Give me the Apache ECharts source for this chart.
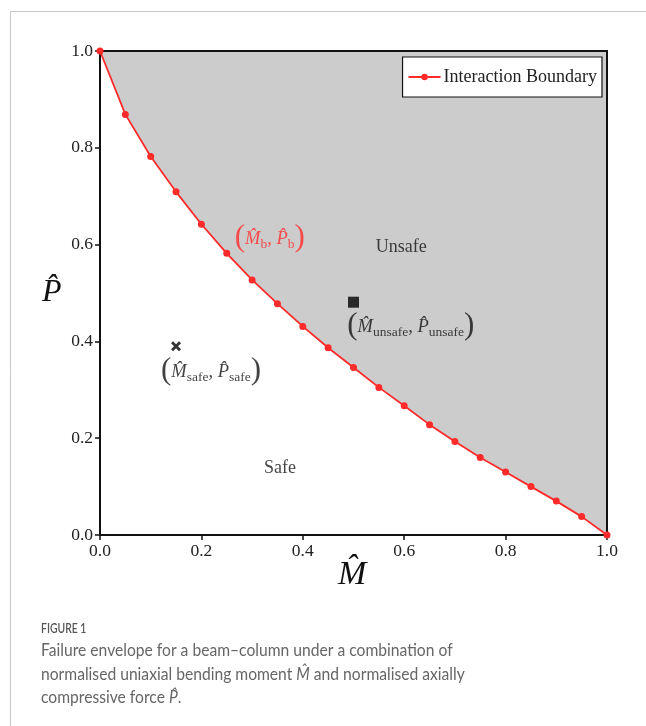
<!DOCTYPE html>
<html>
<head>
<meta charset="utf-8">
<script src="https://cdn.jsdelivr.net/npm/echarts@6/dist/echarts.min.js"></script>
<style>
html,body{margin:0;padding:0;background:#fff;}
#c{width:646px;height:726px;}
</style>
</head>
<body>
<div id="c"></div>
<script>
// ---- data ----
const mHat = [0, 0.05, 0.10, 0.15, 0.20, 0.25, 0.30, 0.35, 0.40, 0.45, 0.50, 0.55, 0.60, 0.65, 0.70, 0.75, 0.80, 0.85, 0.90, 0.95, 1.00];
const pHat = [1.000, 0.869, 0.782, 0.709, 0.642, 0.582, 0.527, 0.478, 0.431, 0.387, 0.346, 0.305, 0.267, 0.228, 0.193, 0.160, 0.130, 0.100, 0.070, 0.038, 0.000];
const safePoint = [0.15, 0.390];
const unsafePoint = [0.50, 0.481];
const xTicks = [0, 0.2, 0.4, 0.6, 0.8, 1.0];
const yTicks = [0, 0.2, 0.4, 0.6, 0.8, 1.0];
const seriesName = 'Interaction Boundary';

const SERIF = '"Liberation Serif", "DejaVu Serif", serif';
const SANS = 'Lato, "Open Sans", sans-serif';
const RED = '#ff2a2a';
const boundary = mHat.map((m, i) => [m, pHat[i]]);

const chart = echarts.init(document.getElementById('c'), null, {renderer: 'canvas'});

const mathRich = function (color) {
  return {
    p: {fontFamily: SERIF, fontSize: 31, color: color, padding: [0, 0, 2, 0]},
    v: {fontFamily: SERIF, fontStyle: 'italic', fontSize: 18.5, color: color},
    c: {fontFamily: SERIF, fontSize: 18.5, color: color},
    s: {fontFamily: SERIF, fontSize: 13.5, color: color, padding: [12, 0, 0, 0]}
  };
};

const textLabels = [
  {value: [0.594, 0.595], text: 'Unsafe', color: '#111', plain: true},
  {value: [0.355, 0.138], text: 'Safe', color: '#111', plain: true},
  {value: [0.335, 0.612], text: '{p|(}{v|M\u0302}{s|b}{c|, }{v|P\u0302}{s|b}{p|)}', color: RED},
  {value: [0.219, 0.337], text: '{p|(}{v|M\u0302}{s|safe}{c|, }{v|P\u0302}{s|safe}{p|)}', color: '#111'},
  {value: [0.613, 0.430], text: '{p|(}{v|M\u0302}{s|unsafe}{c|, }{v|P\u0302}{s|unsafe}{p|)}', color: '#111'}
];

const option = {
  backgroundColor: '#fff',
  animation: false,
  grid: {left: 100, right: 39, top: 51, bottom: 191, containLabel: false},
  legend: {
    data: [seriesName],
    right: 44, top: 57,
    backgroundColor: '#fff', borderColor: '#111', borderWidth: 1.2, borderRadius: 0,
    padding: [11, 5, 11, 5],
    itemWidth: 32, itemHeight: 8, itemGap: 4,
    textStyle: {fontFamily: SERIF, fontSize: 18, color: '#222', padding: [0, 0, 0, -2]}
  },
  xAxis: [{
    type: 'value', min: 0, max: 1, interval: 0.2, z: 10,
    axisLine: {show: true, lineStyle: {color: '#111', width: 2}},
    axisTick: {show: true, length: 5, inside: false, lineStyle: {color: '#111', width: 1.5}},
    axisLabel: {fontFamily: SERIF, fontSize: 17.5, color: '#222', margin: 7,
      formatter: v => xTicks.some(t => Math.abs(t - v) < 1e-9) ? v.toFixed(1) : ''},
    splitLine: {show: false}
  }, {
    type: 'value', min: 0, max: 1, position: 'top', z: 10,
    axisLine: {show: true, onZero: false, lineStyle: {color: '#111', width: 2}},
    axisTick: {show: false}, axisLabel: {show: false}, splitLine: {show: false}
  }],
  yAxis: [{
    type: 'value', min: 0, max: 1, interval: 0.2, z: 10,
    axisLine: {show: true, lineStyle: {color: '#111', width: 2}},
    axisTick: {show: true, length: 5, inside: false, lineStyle: {color: '#111', width: 1.5}},
    axisLabel: {fontFamily: SERIF, fontSize: 17.5, color: '#222', margin: 7,
      formatter: v => yTicks.some(t => Math.abs(t - v) < 1e-9) ? v.toFixed(1) : ''},
    splitLine: {show: false}
  }, {
    type: 'value', min: 0, max: 1, position: 'right', z: 10,
    axisLine: {show: true, onZero: false, lineStyle: {color: '#111', width: 2}},
    axisTick: {show: false}, axisLabel: {show: false}, splitLine: {show: false}
  }],
  series: [
    {
      name: 'unsafe-region', type: 'line', data: boundary, z: 1,
      symbol: 'none', silent: true,
      lineStyle: {width: 0, opacity: 0},
      areaStyle: {color: '#cccccc', opacity: 1, origin: 'end'}
    },
    {
      name: seriesName, type: 'line', data: boundary, z: 20,
      symbol: 'circle', symbolSize: 7,
      itemStyle: {color: RED},
      lineStyle: {color: RED, width: 1.8}
    },
    {
      name: 'safe', type: 'scatter', data: [safePoint], z: 20,
      symbol: 'path://M2,0 L5,3 L8,0 L10,2 L7,5 L10,8 L8,10 L5,7 L2,10 L0,8 L3,5 L0,2 Z',
      symbolSize: 10, itemStyle: {color: '#000'}
    },
    {
      name: 'unsafe', type: 'scatter', data: [unsafePoint], z: 20,
      symbol: 'rect', symbolSize: 11, itemStyle: {color: '#000'}
    },
    {
      name: 'labels', type: 'scatter', z: 21, symbolSize: 1, silent: true,
      itemStyle: {color: 'rgba(0,0,0,0)'},
      data: textLabels.map(t => ({
        value: t.value,
        label: {
          show: true, position: 'inside',
          formatter: t.text,
          fontFamily: SERIF, fontSize: 18, color: t.color,
          rich: t.plain ? {} : mathRich(t.color)
        }
      }))
    }
  ],
  graphic: [
    {type: 'line', shape: {x1: 10, y1: 11.5, x2: 646, y2: 11.5}, style: {stroke: '#c8c8c8', lineWidth: 1}},
    {type: 'line', shape: {x1: 10.5, y1: 11, x2: 10.5, y2: 726}, style: {stroke: '#c8c8c8', lineWidth: 1}},
    {type: 'text', left: 42, top: 277, style: {text: 'P\u0302', font: 'italic 32px ' + SERIF, fill: '#111'}},
    {type: 'text', left: 338, top: 558, style: {text: 'M\u0302', font: 'italic 34px ' + SERIF, fill: '#111'}},
    {type: 'text', x: 41, y: 622, scaleX: 0.8, style: {text: 'FIGURE 1', font: '600 13px ' + SANS, fill: '#555'}},
    {type: 'text', x: 41, y: 639, scaleX: 0.92, style: {
      text: 'Failure envelope for a beam\u2013column under a combination of\nnormalised uniaxial bending moment {i|M\u0302} and normalised axially\ncompressive force {i|P\u0302}.',
      font: '17px ' + SANS, fill: '#666', lineHeight: 23.5,
      rich: {i: {fontFamily: SANS, fontStyle: 'italic', fontSize: 17, fill: '#666', lineHeight: 23.5}}
    }}
  ]
};
chart.setOption(option);
</script>
</body>
</html>
